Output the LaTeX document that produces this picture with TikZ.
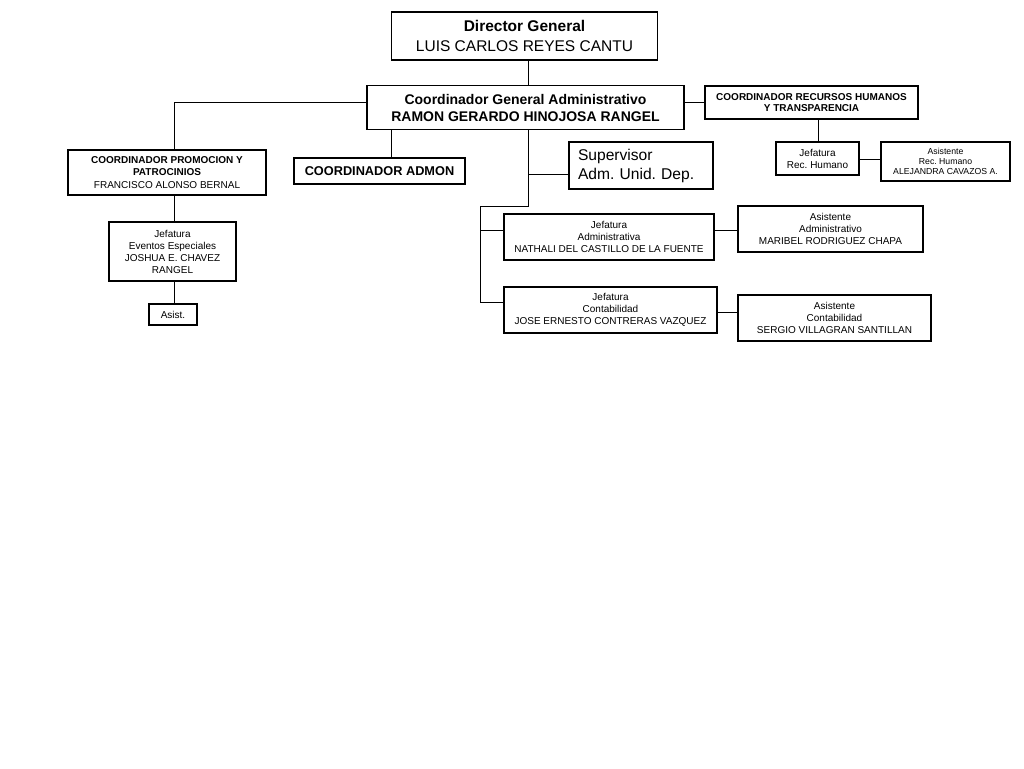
\documentclass[tikz,border=0pt]{standalone}
\usepackage{fontspec}
\setmainfont{Liberation Sans}
\begin{document}
\frenchspacing
\begin{tikzpicture}[x=1pt,y=-1pt]
\tikzset{
  box/.style={draw, line width=1.05pt, inner sep=0pt, align=center},
  conn/.style={line width=0.9pt},
  fA/.style={font=\fontsize{15.5}{20}\selectfont},
  fB/.style={font=\fontsize{14}{17}\selectfont\bfseries},
  fC/.style={font=\fontsize{10}{12}\selectfont},
  fCb/.style={font=\fontsize{10}{11.5}\selectfont\bfseries},
  fD/.style={font=\fontsize{12.75}{15}\selectfont\bfseries},
  fE/.style={font=\fontsize{15.6}{19}\selectfont},
  fF/.style={font=\fontsize{8.7}{10}\selectfont}
}
\fill[white] (0,0) rectangle (1024,768);
\useasboundingbox (0,0) rectangle (1024,768);

\node[box,fA,minimum width=266,minimum height=48] (dir) at (524.5,36) {\textbf{Director General}\\LUIS CARLOS REYES CANTU};
\node[box,fB,minimum width=317,minimum height=44] (cg) at (525.5,107.5) {Coordinador General Administrativo\\RAMON GERARDO HINOJOSA RANGEL};
\node[box,fCb,minimum width=213,minimum height=33] (rh) at (811.5,102.5) {COORDINADOR RECURSOS HUMANOS\\Y TRANSPARENCIA};
\node[box,fC,minimum width=83,minimum height=33] (jrh) at (817.5,158.5) {Jefatura\\Rec. Humano};
\node[box,fF,minimum width=129,minimum height=39] (arh) at (945.5,161.5) {Asistente\\Rec. Humano\\ALEJANDRA CAVAZOS A.};
\node[box,fC,font=\fontsize{10}{12.5}\selectfont,minimum width=198,minimum height=45] (promo) at (167,172.5) {\textbf{COORDINADOR PROMOCION Y}\\\textbf{PATROCINIOS}\\FRANCISCO ALONSO BERNAL};
\node[box,fD,minimum width=171,minimum height=26] (admon) at (379.5,171) {COORDINADOR ADMON};
\node[box,fE,text width=126,inner xsep=9,minimum height=47,align=left] (sup) at (641,165.5) {Supervisor\\Adm. Unid. Dep.};
\node[box,fC,minimum width=210,minimum height=46] (jadm) at (609,237) {Jefatura\\Administrativa\\NATHALI DEL CASTILLO DE LA FUENTE};
\node[box,fC,minimum width=185,minimum height=46] (aadm) at (830.5,229) {Asistente\\Administrativo\\MARIBEL RODRIGUEZ CHAPA};
\node[box,fC,minimum width=213,minimum height=46] (jcont) at (610.5,310) {Jefatura\\Contabilidad\\JOSE ERNESTO CONTRERAS VAZQUEZ};
\node[box,fC,minimum width=193,minimum height=46] (acont) at (834.5,318) {Asistente\\Contabilidad\\SERGIO VILLAGRAN SANTILLAN};
\node[box,fC,minimum width=127,minimum height=59] (jev) at (172.5,251.5) {Jefatura\\Eventos Especiales\\JOSHUA E. CHAVEZ\\RANGEL};
\node[box,fC,minimum width=48,minimum height=21] (asist) at (173,314.5) {Asist.};

\coordinate (xm) at (528,0);
\coordinate (x391) at (391,0);
\coordinate (x480) at (480,0);
\coordinate (x174) at (174,0);
\coordinate (x818) at (818,0);
\coordinate (y102) at (0,102);
\coordinate (y174) at (0,174);
\coordinate (y206) at (0,206);
\coordinate (y230) at (0,230);
\coordinate (y302) at (0,302);
\coordinate (y312) at (0,312);
\coordinate (y159) at (0,159);

\draw[conn] (dir.south -| xm) -- (cg.north -| xm);
\draw[conn] (cg.west |- y102) -| (promo.north -| x174);
\draw[conn] (cg.south -| x391) -- (admon.north -| x391);
\draw[conn] (cg.south -| xm) -- (xm |- y206) -- (x480 |- y206) -- (x480 |- y302) -- (jcont.west |- y302);
\draw[conn] (xm |- y174) -- (sup.west |- y174);
\draw[conn] (x480 |- y230) -- (jadm.west |- y230);
\draw[conn] (cg.east |- y102) -- (rh.west |- y102);
\draw[conn] (rh.south -| x818) -- (jrh.north -| x818);
\draw[conn] (jrh.east |- y159) -- (arh.west |- y159);
\draw[conn] (jadm.east |- y230) -- (aadm.west |- y230);
\draw[conn] (jcont.east |- y312) -- (acont.west |- y312);
\draw[conn] (promo.south -| x174) -- (jev.north -| x174);
\draw[conn] (jev.south -| x174) -- (asist.north -| x174);
\end{tikzpicture}
\end{document}
